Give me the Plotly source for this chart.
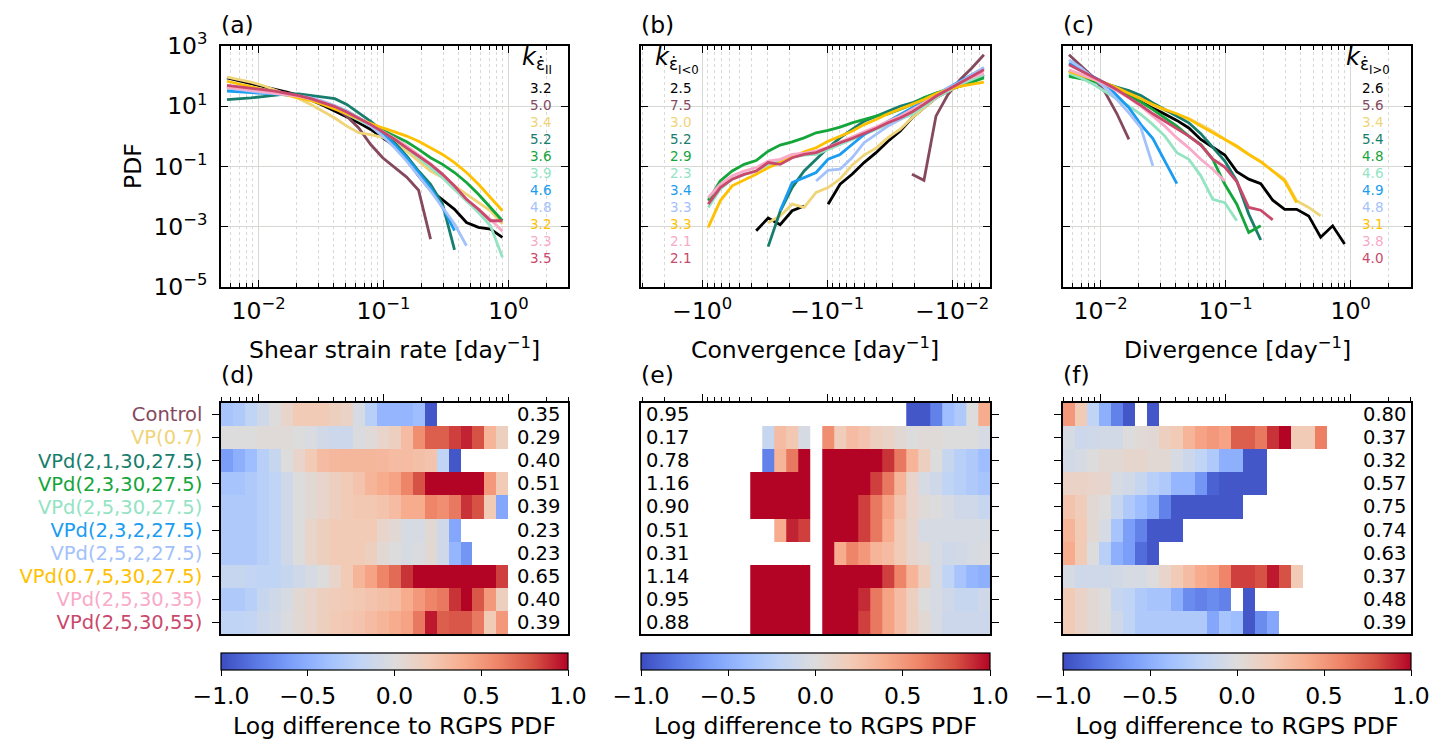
import math
import plotly.graph_objects as go

W, H = 1439, 740

# ---------------- data ----------------
# log-spaced bins of |strain rate| [day^-1]
bin_edges = [0.005, 0.006235, 0.007776, 0.009696, 0.01209, 0.01508, 0.01880, 0.02345,
             0.02924, 0.03646, 0.04547, 0.05670, 0.07071, 0.08818, 0.1100, 0.1371,
             0.1710, 0.2132, 0.2659, 0.3316, 0.4135, 0.5157, 0.6430, 0.8018, 1.0]

series_names = ["RGPS", "Control", "VP(0.7)", "VPd(2,1,30,27.5)", "VPd(2,3,30,27.5)",
                "VPd(2,5,30,27.5)", "VPd(2,3,2,27.5)", "VPd(2,5,2,27.5)",
                "VPd(0.7,5,30,27.5)", "VPd(2,5,30,35)", "VPd(2,5,30,55)"]
series_colors = ["#000000", "#85495e", "#efd478", "#177d6c", "#14a53b", "#94e3c3",
                 "#1a9cf0", "#a3c1fb", "#ffc000", "#f9aac8", "#c9486b"]

# log10(PDF) per bin, one row per series (RGPS first)
shear_log_pdf = [
    [1.94, 1.85, 1.76, 1.67, 1.58, 1.47, 1.36, 1.21, 1.03, 0.84, 0.64, 0.45, 0.23, -0.05, -0.32, -0.76, -1.31, -1.79, -2.09, -2.42, -2.86, -3.02, -3.08, -3.35],
    [1.66, 1.63, 1.58, 1.55, 1.50, 1.44, 1.36, 1.28, 1.14, 0.95, 0.67, 0.28, -0.27, -0.71, -1.02, -1.35, -1.79, -3.41],
    [1.97, 1.89, 1.80, 1.69, 1.55, 1.41, 1.25, 1.06, 0.84, 0.61, 0.34, 0.12, 0.06, -0.03, -0.21, -0.49, -0.82, -1.15, -1.37, -1.65, -1.92, -2.20, -2.47, -2.91],
    [1.22, 1.24, 1.28, 1.32, 1.36, 1.41, 1.41, 1.36, 1.30, 1.25, 1.06, 0.78, 0.50, 0.17, -0.21, -0.65, -1.15, -1.59, -2.25, -3.77],
    [1.55, 1.55, 1.53, 1.50, 1.44, 1.39, 1.32, 1.24, 1.14, 1.00, 0.84, 0.61, 0.39, 0.20, 0.01, -0.18, -0.43, -0.71, -0.93, -1.20, -1.53, -1.92, -2.36, -2.80],
    [1.55, 1.55, 1.53, 1.50, 1.44, 1.39, 1.32, 1.22, 1.11, 0.95, 0.75, 0.56, 0.34, 0.12, -0.10, -0.38, -0.71, -1.04, -1.37, -1.76, -2.14, -2.53, -2.97, -4.01],
    [1.50, 1.47, 1.45, 1.43, 1.41, 1.38, 1.33, 1.25, 1.14, 0.99, 0.81, 0.61, 0.37, 0.09, -0.27, -0.71, -1.20, -1.70, -2.36, -3.13],
    [1.61, 1.55, 1.50, 1.45, 1.42, 1.39, 1.34, 1.28, 1.17, 1.02, 0.84, 0.61, 0.34, 0.01, -0.38, -0.82, -1.31, -1.81, -2.36, -2.91, -3.63],
    [1.83, 1.74, 1.65, 1.56, 1.47, 1.39, 1.30, 1.19, 1.06, 0.91, 0.75, 0.58, 0.42, 0.28, 0.15, 0.01, -0.16, -0.38, -0.60, -0.87, -1.20, -1.59, -2.03, -2.47],
    [1.63, 1.58, 1.54, 1.50, 1.45, 1.40, 1.33, 1.24, 1.13, 0.99, 0.81, 0.61, 0.39, 0.17, -0.07, -0.32, -0.60, -0.91, -1.26, -1.65, -2.09, -2.42, -2.75, -3.15],
    [1.69, 1.65, 1.61, 1.55, 1.50, 1.43, 1.35, 1.25, 1.13, 0.99, 0.81, 0.61, 0.39, 0.15, -0.10, -0.38, -0.65, -0.93, -1.26, -1.65, -2.09, -2.42, -2.80, -2.80],
]

# convergence: bins of |rate| (axis shows negative values)
conv_log_pdf = [
    [2.05, 1.88, 1.69, 1.50, 1.28, 0.95, 0.61, 0.17, -0.16, -0.54, -0.87, -1.26, -1.59, -2.25, None, -2.31, -2.47, -2.93, -2.71, -3.13],
    [2.71, 2.27, 1.88, 1.39, 0.67, -1.46, -1.26],
    [1.99, 1.88, 1.69, 1.50, 1.28, 0.95, 0.61, 0.23, -0.04, -0.39, -0.62, -0.96, -1.41, -1.70, -1.86, -2.36, -2.25, -2.64, -2.87],
    [1.99, 1.85, 1.69, 1.55, 1.41, 1.28, 1.11, 1.00, 0.83, 0.67, 0.50, 0.23, -0.05, -0.38, -0.76, -1.15, -1.70, -2.49, -3.66],
    [1.94, 1.80, 1.66, 1.55, 1.44, 1.28, 1.06, 0.89, 0.75, 0.67, 0.56, 0.45, 0.31, 0.20, 0.12, -0.05, -0.18, -0.29, -0.49, -0.80, -0.93, -1.15, -1.48, -2.14],
    [2.05, 1.88, 1.72, 1.50, 1.28, 1.00, 0.73, 0.56, 0.39, 0.23, 0.06, -0.10, -0.27, -0.43, -0.60, -0.62, -0.69, -0.84, -0.93, -1.15, -1.26, -1.42, -1.75, -2.36],
    [2.27, 2.05, 1.83, 1.61, 1.39, 1.17, 0.95, 0.73, 0.50, 0.28, 0.06, -0.27, -0.60, -0.76, -1.20, -1.37, -1.53, -2.47],
    [2.29, 2.05, 1.80, 1.61, 1.36, 1.11, 0.83, 0.56, 0.34, 0.06, -0.21, -0.71, -1.09, -1.13, -1.48],
    [1.80, 1.74, 1.66, 1.55, 1.41, 1.22, 1.06, 0.89, 0.75, 0.56, 0.39, 0.17, 0.01, -0.16, -0.38, -0.51, -0.69, -0.87, -1.04, -1.26, -1.46, -1.64, -2.14, -3.02],
    [2.10, 1.96, 1.77, 1.55, 1.33, 1.11, 0.89, 0.67, 0.50, 0.31, 0.15, -0.02, -0.18, -0.36, -0.49, -0.56, -0.60, -0.76, -0.82, -1.04, -1.15, -1.31, -1.59, -2.03],
    [2.21, 1.99, 1.77, 1.55, 1.33, 1.06, 0.81, 0.61, 0.45, 0.26, 0.09, -0.07, -0.21, -0.38, -0.54, -0.60, -0.71, -0.93, -0.87, -1.15, -1.26, -1.42, -1.70, -2.25],
]

div_log_pdf = [
    [2.18, 2.05, 1.91, 1.77, 1.61, 1.41, 1.19, 0.95, 0.75, 0.53, 0.28, -0.10, -0.36, -0.62, -1.17, -1.42, -1.57, -2.12, -2.42, -2.42, -2.64, -3.35, -2.97, -3.57],
    [2.71, 2.35, 1.97, 1.47, 0.75, -0.10],
    [2.10, 2.01, 1.91, 1.78, 1.63, 1.44, 1.25, 1.03, 0.86, 0.72, 0.59, 0.39, 0.17, -0.10, -0.36, -0.60, -0.84, -1.15, -1.42, -2.14, -2.36, -2.64],
    [2.05, 1.96, 1.85, 1.74, 1.63, 1.52, 1.36, 1.11, 0.89, 0.67, 0.45, 0.09, -0.38, -0.82, -1.48, -2.58, -3.44],
    [1.99, 1.91, 1.83, 1.69, 1.55, 1.36, 1.14, 0.89, 0.61, 0.34, 0.01, -0.27, -0.76, -1.59, -2.25, -3.19, -2.97],
    [2.10, 1.94, 1.74, 1.50, 1.25, 1.00, 0.73, 0.39, 0.01, -0.54, -0.76, -1.31, -2.09, -2.20, -2.80],
    [2.43, 2.21, 1.99, 1.77, 1.36, 0.95, 0.39, -0.07, -0.82, -1.57],
    [2.54, 2.27, 1.94, 1.63, 1.22, 0.78, 0.28, -0.98],
    [2.16, 2.03, 1.90, 1.77, 1.61, 1.44, 1.25, 1.06, 0.89, 0.75, 0.58, 0.34, 0.12, -0.10, -0.32, -0.60, -0.84, -1.15, -1.48, -2.20],
    [2.21, 2.07, 1.91, 1.74, 1.52, 1.28, 1.00, 0.67, 0.34, -0.05, -0.38, -0.76, -1.09, -1.48],
    [2.38, 2.18, 1.99, 1.77, 1.55, 1.30, 1.03, 0.75, 0.50, 0.26, 0.01, -0.29, -0.76, -1.02, -1.50, -2.36, -2.45, -2.77],
]

# PDF exponents k
k_shear = ["3.2", "5.0", "3.4", "5.2", "3.6", "3.9", "4.6", "4.8", "3.2", "3.3", "3.5"]
k_conv = ["2.5", "7.5", "3.0", "5.2", "2.9", "2.3", "3.4", "3.3", "3.3", "2.1", "2.1"]
k_div = ["2.6", "5.6", "3.4", "5.4", "4.8", "4.6", "4.9", "4.8", "3.1", "3.8", "4.0"]

N = None
# log difference to RGPS PDF, one row per model
shear_diff = [
    [-0.35, -0.3, -0.2, -0.1, 0.0, 0.1, 0.2, 0.2, 0.2, 0.15, 0.12, -0.05, -0.25, -0.45, -0.45, -0.45, -0.4, -0.95],
    [0, 0, 0, 0.02, 0.02, 0.02, 0, -0.03, -0.08, -0.12, -0.12, -0.02, 0.02, 0.1, 0.15, 0.3, 0.55, 0.75, 0.75, 0.85, 0.92, 0.8, 0.35, 0.15],
    [-0.6, -0.5, -0.4, -0.25, -0.15, 0.0, 0.1, 0.2, 0.3, 0.32, 0.33, 0.33, 0.33, 0.32, 0.3, 0.3, 0.28, 0.25, -0.2, -0.95],
    [-0.35, -0.35, -0.3, -0.25, -0.2, -0.1, 0.0, 0.05, 0.1, 0.15, 0.2, 0.25, 0.35, 0.4, 0.45, 0.6, 0.8, 1.2, 1.2, 1.2, 1.2, 1.2, 0.5, 0.2],
    [-0.3, -0.3, -0.3, -0.25, -0.2, -0.1, 0.0, 0.05, 0.1, 0.15, 0.2, 0.22, 0.22, 0.25, 0.3, 0.4, 0.4, 0.6, 0.55, 0.65, 0.88, 0.8, 0.2, -0.55],
    [-0.3, -0.3, -0.3, -0.25, -0.2, -0.1, 0.0, 0.1, 0.15, 0.2, 0.2, 0.2, 0.2, 0.1, 0.05, -0.05, -0.05, 0.05, -0.1, -0.55],
    [-0.3, -0.3, -0.3, -0.25, -0.2, -0.1, 0.0, 0.1, 0.15, 0.2, 0.2, 0.2, 0.15, 0.05, 0.0, -0.05, -0.02, 0.05, -0.1, -0.45, -0.65],
    [-0.15, -0.15, -0.18, -0.2, -0.2, -0.15, -0.1, -0.05, 0.0, 0.1, 0.2, 0.35, 0.45, 0.6, 0.7, 0.88, 1.2, 1.2, 1.2, 1.2, 1.2, 1.2, 1.2, 0.85],
    [-0.3, -0.3, -0.25, -0.15, -0.1, -0.05, 0.05, 0.1, 0.15, 0.18, 0.2, 0.22, 0.25, 0.28, 0.3, 0.4, 0.5, 0.6, 0.65, 0.88, 1.0, 0.78, 0.5, 0.15],
    [-0.2, -0.2, -0.18, -0.12, -0.08, -0.02, 0.05, 0.1, 0.15, 0.2, 0.22, 0.25, 0.3, 0.35, 0.4, 0.45, 0.65, 0.95, 0.75, 0.78, 0.78, 0.65, 0.2, 0.5],
]
conv_diff = [
    [0.4, 0.0, -0.3, -0.4, -0.75, -0.95, -0.95],
    [-0.05, 0, 0, 0, 0.02, 0.02, 0, 0.05, 0.12, 0.15, 0.25, 0.3, 0.18, 0.55, N, -0.05, 0.22, 0.3, -0.15],
    [-0.4, -0.3, -0.25, -0.15, 0.0, 0.15, 0.35, 0.65, 0.88, 1.3, 1.3, 1.3, 1.3, 1.3, N, 1.3, 0.65, 0.35, -0.75],
    [-0.35, -0.3, -0.25, -0.2, -0.1, -0.05, 0.1, 0.35, 0.65, 0.85, 1.3, 1.3, 1.3, 1.3, N, 1.3, 1.3, 1.3, 1.3, 1.3],
    [-0.15, -0.1, -0.1, -0.05, 0.0, 0.02, 0.1, 0.25, 0.45, 0.65, 0.85, 1.3, 1.3, 1.3, N, 1.3, 1.3, 1.3, 1.3, 1.3],
    [-0.05, -0.05, -0.05, -0.05, -0.05, -0.05, 0.08, 0.2, 0.4, 0.65, 0.85, 1.3, 1.3, 1.3, N, 0.85, 0.92, 0.4],
    [-0.02, -0.05, -0.08, -0.1, -0.05, 0.03, 0.08, 0.2, 0.3, 0.35, 0.5, 0.6, 0.4, 1.3],
    [-0.5, -0.45, -0.35, -0.2, -0.05, 0.15, 0.35, 0.6, 0.85, 1.3, 1.3, 1.3, 1.3, 1.3, N, 1.3, 1.3, 1.3, 1.3, 1.3],
    [-0.1, -0.15, -0.15, -0.1, -0.05, 0.0, 0.15, 0.3, 0.45, 0.65, 0.9, 1.3, 1.3, 1.3, N, 1.3, 1.3, 1.3, 1.3, 1.3],
    [-0.12, -0.12, -0.12, -0.12, -0.05, 0.05, 0.15, 0.3, 0.45, 0.65, 0.85, 1.3, 1.3, 1.3, N, 1.3, 1.3, 1.3, 1.3, 1.3],
]
div_diff = [
    [0.5, 0.2, -0.2, -0.5, -0.75, -0.95, N, -0.95],
    [-0.05, -0.12, -0.1, -0.08, -0.08, 0.0, 0.03, 0.05, 0.15, 0.2, 0.35, 0.45, 0.5, 0.45, 0.75, 0.75, 0.65, 0.88, 1.0, 0.2, 0.2, 0.62],
    [-0.08, -0.05, 0.0, 0.05, 0.05, 0.08, 0.08, 0.05, 0.05, -0.05, -0.12, -0.2, -0.3, -0.5, -0.5, -0.95, -0.95],
    [0.12, 0.12, 0.1, 0.08, -0.05, -0.08, -0.15, -0.25, -0.3, -0.45, -0.45, -0.65, -0.9, -0.95, -0.95, -0.95, -0.95],
    [0.25, 0.18, 0.05, 0.0, -0.15, -0.3, -0.4, -0.5, -0.75, -0.95, -0.95, -0.95, -0.95, -0.95, -0.95],
    [0.35, 0.2, 0.05, -0.05, -0.35, -0.6, -0.75, -0.95, -0.95, -0.95],
    [0.4, 0.2, 0.0, -0.25, -0.5, -0.6, -0.85, -0.95],
    [-0.05, -0.1, -0.1, -0.1, -0.08, -0.05, -0.05, 0.0, 0.1, 0.2, 0.3, 0.4, 0.45, 0.6, 0.85, 0.85, 0.8, 0.95, 0.8, 0.2],
    [0.2, 0.12, 0.05, 0.0, -0.15, -0.2, -0.3, -0.35, -0.35, -0.5, -0.7, -0.75, -0.7, -0.75, N, -0.95],
    [0.2, 0.12, 0.05, 0.0, -0.1, -0.2, -0.3, -0.3, -0.3, -0.3, -0.3, -0.3, -0.55, -0.35, -0.4, -0.95, -0.7, -0.55],
]

shear_score = ["0.35", "0.29", "0.40", "0.51", "0.39", "0.23", "0.23", "0.65", "0.40", "0.39"]
conv_score = ["0.95", "0.17", "0.78", "1.16", "0.90", "0.51", "0.31", "1.14", "0.95", "0.88"]
div_score = ["0.80", "0.37", "0.32", "0.57", "0.75", "0.74", "0.63", "0.37", "0.48", "0.39"]

# ---------------- helpers ----------------
NB = len(bin_edges) - 1
bin_centers = [math.sqrt(a * b) for a, b in zip(bin_edges[:-1], bin_edges[1:])]


def pad(row):
    return list(row) + [None] * (NB - len(row))


def fx(px):
    return px / W


def fy(py):
    return 1 - py / H


FONT = "DejaVu Sans, Liberation Sans, sans-serif"
GRID = "#d6d9d3"
MGRID = "#d9d9d9"
BIG = 23.5

coolwarm = [
    [0.0, "#3b4cc0"], [0.1, "#5a78e4"], [0.2, "#7b9ff9"], [0.3, "#9ebeff"],
    [0.4, "#c0d4f5"], [0.5, "#dddcdc"], [0.6, "#f2cbb7"], [0.7, "#f7ac8e"],
    [0.8, "#ee8468"], [0.9, "#d65244"], [1.0, "#b40426"],
]

minor_vals = []
for dec in [0.001, 0.01, 0.1, 1.0]:
    for m in range(2, 10):
        minor_vals.append(m * dec)

fig = go.Figure()

# panel geometry (pixels)
PX = {"a": (213, 560), "b": (633, 982), "c": (1055, 1403)}
TOP_Y = (38, 279)
HM_Y = (395, 626)

panels = [
    ("a", shear_log_pdf, shear_diff, "x", "y", "x4", "y4", "coloraxis"),
    ("b", conv_log_pdf, conv_diff, "x2", "y2", "x5", "y5", "coloraxis2"),
    ("c", div_log_pdf, div_diff, "x3", "y3", "x6", "y6", "coloraxis3"),
]

for key, pdfs, diffs, xa, ya, xh, yh, cax in panels:
    for i, row in enumerate(pdfs):
        yv = [None if v is None else 10 ** v for v in pad(row)]
        fig.add_trace(go.Scatter(
            x=bin_centers, y=yv, mode="lines", xaxis=xa, yaxis=ya,
            line=dict(color=series_colors[i], width=2.8), showlegend=False,
            name=series_names[i], connectgaps=False))
    z = [pad(r) for r in diffs]
    fig.add_trace(go.Heatmap(
        x=bin_edges, y=list(range(len(diffs))), z=z, coloraxis=cax,
        xaxis=xh, yaxis=yh, hoverongaps=False))

layout = dict(
    width=W, height=H, margin=dict(l=0, r=0, t=0, b=0, autoexpand=False),
    paper_bgcolor="white", plot_bgcolor="white",
    font=dict(family=FONT, color="black", size=BIG),
    showlegend=False,
)

ranges = {"a": [math.log10(0.005), 0.477], "b": [0.49, -2.302], "c": [-2.301, 0.483]}
major_text = {
    "a": ["10<sup>−2</sup>", "10<sup>−1</sup>", "10<sup>0</sup>"],
    "b": ["−10<sup>−2</sup>", "−10<sup>−1</sup>", "−10<sup>0</sup>"],
    "c": ["10<sup>−2</sup>", "10<sup>−1</sup>", "10<sup>0</sup>"],
}

for idx, key in enumerate(["a", "b", "c"]):
    n = idx + 1
    x0, x1 = PX[key]
    dom = [fx(x0), fx(x1)]
    sfx = "" if n == 1 else str(n)
    layout["xaxis" + sfx] = dict(
        domain=dom, type="log", range=ranges[key], anchor="y" + sfx, automargin=False,
        tickvals=[0.01, 0.1, 1], ticktext=major_text[key],
        ticks="inside", ticklen=7, tickwidth=1.3, tickcolor="black",
        mirror="ticks", showline=True, linecolor="black", linewidth=1.5,
        showgrid=True, gridcolor=GRID, gridwidth=1.3, zeroline=False,
        tickfont=dict(size=BIG), ticklabelstandoff=2,
        minor=dict(tickmode="array", tickvals=minor_vals, ticks="inside", ticklen=4,
                   tickwidth=1, tickcolor="black", showgrid=True, gridcolor=MGRID,
                   griddash="dot", gridwidth=1),
    )
    layout["yaxis" + sfx] = dict(
        domain=[fy(TOP_Y[1]), fy(TOP_Y[0])], type="log", range=[-5, 3], anchor="x" + sfx,
        automargin=False,
        tickvals=[1e-5, 1e-3, 1e-1, 1e1, 1e3],
        ticktext=["10<sup>−5</sup>", "10<sup>−3</sup>", "10<sup>−1</sup>", "10<sup>1</sup>", "10<sup>3</sup>"],
        showticklabels=(n == 1), ticks="inside", ticklen=7, tickwidth=1.3, tickcolor="black",
        mirror="ticks", showline=True, linecolor="black", linewidth=1.5,
        showgrid=True, gridcolor=GRID, gridwidth=1.3, zeroline=False,
        tickfont=dict(size=BIG), ticklabelstandoff=7,
    )
    # heatmap axes
    hn = str(n + 3)
    layout["xaxis" + hn] = dict(
        domain=dom, type="log", range=ranges[key], anchor="y" + hn, side="top",
        automargin=False,
        tickvals=[0.01, 0.1, 1], showticklabels=False,
        ticks="outside", ticklen=7, tickwidth=1.3, tickcolor="black",
        showline=True, mirror=True, linecolor="black", linewidth=1.5,
        showgrid=False, zeroline=False,
        minor=dict(tickmode="array", tickvals=minor_vals, ticks="outside", ticklen=4,
                   tickwidth=1, tickcolor="black", showgrid=False),
    )
    ytick = dict(
        domain=[fy(HM_Y[1]), fy(HM_Y[0])], range=[9.5, -0.5], anchor="x" + hn,
        automargin=False,
        tickvals=list(range(10)), ticks="outside", ticklen=7, tickwidth=1.3, tickcolor="black",
        showline=True, mirror=True, linecolor="black", linewidth=1.5,
        showgrid=False, zeroline=False, side="right" if n == 2 else "left",
    )
    if n == 1:
        ytick["ticktext"] = ['<span style="color:%s">%s</span>' % (c, s)
                             for s, c in zip(series_names[1:], series_colors[1:])]
        ytick["tickfont"] = dict(size=19.5)
        ytick["ticklabelstandoff"] = 6
    else:
        ytick["showticklabels"] = False
    layout["yaxis" + hn] = ytick

    cbar_name = "coloraxis" if n == 1 else "coloraxis" + str(n)
    layout[cbar_name] = dict(
        colorscale=coolwarm, cmin=-1, cmax=1,
        colorbar=dict(
            orientation="h", x=fx((x0 + x1) / 2), xanchor="center",
            y=fy(645), yanchor="top", len=x1 - x0, lenmode="pixels",
            thickness=17, xpad=0, ypad=0, outlinewidth=1.2, outlinecolor="black",
            ticks="outside", ticklen=6, tickwidth=1.3, tickcolor="black",
            tickvals=[-1, -0.5, 0, 0.5, 1], ticktext=["−1.0", "−0.5", "0.0", "0.5", "1.0"],
            tickfont=dict(size=BIG),
            title=dict(text="Log difference to RGPS PDF", side="bottom", font=dict(size=BIG)),
        ),
    )

annotations = []


def ann(text, x, y, size=BIG, xanchor="center", yanchor="middle", color="black", **kw):
    d = dict(text=text, x=x, y=y, xref="paper", yref="paper", showarrow=False,
             xanchor=xanchor, yanchor=yanchor, font=dict(size=size, color=color, family=FONT))
    d.update(kw)
    annotations.append(d)


# panel letters
for lab, px in zip(["(a)", "(b)", "(c)"], [213, 633, 1055]):
    ann(lab, fx(px - 2), fy(17), xanchor="left")
for lab, px in zip(["(d)", "(e)", "(f)"], [213, 633, 1055]):
    ann(lab, fx(px - 2), fy(367), xanchor="left")

# x-axis titles
ann("Shear strain rate [day<sup>−1</sup>]", fx(386), fy(340))
ann("Convergence [day<sup>−1</sup>]", fx(807), fy(340))
ann("Divergence [day<sup>−1</sup>]", fx(1229), fy(340))
ann("PDF", fx(125), fy(158), textangle=-90)

# k exponent columns
k_titles = [
    ("<i>k</i><sub>ε̇<sub>II</sub></sub>", 512, 532, k_shear),
    ("<i>k</i><sub>ε̇<sub>I&lt;0</sub></sub>", 645, 672, k_conv),
    ("<i>k</i><sub>ε̇<sub>I&gt;0</sub></sub>", 1336, 1364, k_div),
]
for title, tx, vx, vals in k_titles:
    ann(title, fx(tx), fy(52), size=24, xanchor="left")
    for i, v in enumerate(vals):
        ann(v, fx(vx), fy(80 + 17 * i), size=13.5, color=series_colors[i])

# scores next to heatmaps
for i in range(10):
    ann(shear_score[i], fx(554), i, size=19.5, xanchor="right", yref="y4")
    ann(conv_score[i], fx(636), i, size=19.5, xanchor="left", yref="y5")
    ann(div_score[i], fx(1400), i, size=19.5, xanchor="right", yref="y6")

layout["annotations"] = annotations
fig.update_layout(**layout)
fig.write_html("out.html")
